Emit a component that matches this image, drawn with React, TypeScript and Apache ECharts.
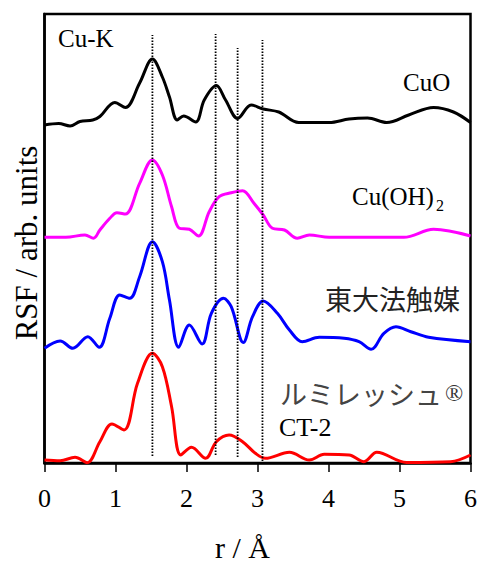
import React, { useEffect, useRef } from "react";
import * as echarts from "echarts";

// r (Å) positions and RSF values (arb. units, stacked display offsets included)
const R_CUO = [0, 0.2, 0.36, 0.5, 0.68, 0.78, 0.99, 1.14, 1.34, 1.52, 1.66, 1.76, 1.87, 1.96, 2.13, 2.25, 2.42, 2.55, 2.72, 2.91, 3.08, 3.3, 3.58, 4.01, 4.29, 4.55, 4.82, 5.13, 5.48, 5.76, 6.0];
const V_CUO = [338, 339.5, 337, 341.5, 343, 346.5, 360.5, 355.5, 380, 404, 386, 366, 343, 347, 341, 363, 377.5, 363, 344.5, 358, 354, 351, 340.5, 340.5, 344, 345, 340.5, 348, 355.5, 351, 340.5];

const R_CUOH = [0, 0.3, 0.57, 0.69, 0.78, 0.92, 1.02, 1.14, 1.34, 1.52, 1.66, 1.79, 1.9, 2.04, 2.17, 2.32, 2.46, 2.63, 2.79, 2.95, 3.08, 3.21, 3.38, 3.56, 3.73, 4.01, 4.57, 5.06, 5.48, 6.0];
const V_CUOH = [225.7, 225.7, 228, 224.7, 233, 244.7, 250.3, 249, 279.7, 303, 288, 256.3, 234.7, 233.7, 227, 251.3, 266.3, 270.3, 272.3, 259.7, 248, 234.7, 233, 224.7, 228, 225.7, 225.7, 225.7, 233.7, 227];

const R_TODAI = [0, 0.22, 0.4, 0.61, 0.77, 0.92, 1.06, 1.2, 1.34, 1.52, 1.66, 1.76, 1.89, 2.04, 2.22, 2.35, 2.52, 2.63, 2.8, 2.93, 3.08, 3.28, 3.45, 3.63, 3.87, 4.22, 4.43, 4.6, 4.78, 4.95, 5.16, 5.41, 6.0];
const V_TODAI = [114.7, 122, 114.7, 126.3, 115.7, 144.7, 168, 164.7, 186.3, 221.3, 201.3, 163, 115.7, 138, 119, 149.7, 164.7, 156.3, 120.5, 146.3, 162, 149.7, 133, 121.3, 125.7, 124.7, 121.3, 113.7, 129.7, 136.3, 131.3, 125.7, 121.3];

const R_CT2 = [0, 0.22, 0.43, 0.6, 0.78, 0.95, 1.12, 1.31, 1.52, 1.66, 1.79, 1.92, 2.07, 2.27, 2.42, 2.6, 2.79, 2.97, 3.11, 3.45, 3.73, 3.94, 4.29, 4.5, 4.68, 5.1, 5.72, 6.0];
const V_CT2 = [3, 2.3, 5.7, 0.3, 21.3, 39, 33, 79.7, 109.7, 96.3, 56.3, 8, 15.7, 4.7, 21.3, 28, 21.3, 9.7, 4.7, 10.7, 3, 8.7, 8, 1.3, 10.7, 0.5, 1.3, 8];

// reference lines: r position, bottom and top value
const REF_R = [1.52, 2.41, 2.72, 3.07];
const REF_LO = [7, 8, 6, 2];
const REF_HI = [428, 429, 415, 423];

const X_TICKS = [0, 1, 2, 3, 4, 5, 6];

const SERIF = "'Liberation Serif', 'Times New Roman', serif";
const CJK = "'Noto Sans CJK JP', sans-serif";

function pairs(r: number[], v: number[]) {
  return r.map((x, i) => [x, v[i]]);
}

export default function App() {
  const ref = useRef<HTMLDivElement>(null);
  useEffect(() => {
    if (!ref.current) return;
    const chart = echarts.init(ref.current, undefined, { renderer: "svg" });
    const curves = [
      { name: "CuO", r: R_CUO, v: V_CUO, color: "#000000" },
      { name: "Cu(OH)2", r: R_CUOH, v: V_CUOH, color: "#ff00ff" },
      { name: "東大法触媒", r: R_TODAI, v: V_TODAI, color: "#0000ff" },
      { name: "ルミレッシュ® CT-2", r: R_CT2, v: V_CT2, color: "#ff0000" },
    ];
    const series: any[] = curves.map((c) => ({
      type: "line",
      name: c.name,
      data: pairs(c.r, c.v),
      showSymbol: false,
      smooth: 0.35,
      lineStyle: { color: c.color, width: 3 },
      itemStyle: { color: c.color },
      z: 2,
    }));
    REF_R.forEach((x, i) => {
      series.push({
        type: "line",
        name: "ref" + i,
        data: [
          [x, REF_LO[i]],
          [x, REF_HI[i]],
        ],
        showSymbol: false,
        lineStyle: { color: "#000", width: 1.8, type: [1.5, 1.5] },
        z: 3,
      });
    });
    chart.setOption({
      animation: false,
      backgroundColor: "#ffffff",
      grid: {
        left: 44.5,
        right: 8,
        top: 14,
        bottom: 99,
        show: true,
        borderColor: "#000",
        borderWidth: 2.5,
      },
      xAxis: {
        type: "value",
        min: 0,
        max: 6,
        interval: 1,
        axisLine: { show: true, lineStyle: { color: "#000", width: 2.5 } },
        axisTick: { show: true, inside: false, length: 9, lineStyle: { color: "#000", width: 1.5 } },
        axisLabel: {
          margin: 22,
          color: "#000",
          fontFamily: SERIF,
          fontSize: 26,
          formatter: (v: number) => (X_TICKS.includes(v) ? String(v) : ""),
        },
        splitLine: { show: false },
      },
      yAxis: {
        type: "value",
        min: 0,
        max: 449,
        axisLine: { show: true, lineStyle: { color: "#000", width: 2.5 } },
        axisTick: { show: false },
        axisLabel: { show: false },
        splitLine: { show: false },
      },
      series,
      graphic: [
        { type: "text", x: 242.5, y: 547, style: { text: "r / Å", font: `30px ${SERIF}`, lineHeight: 28, fill: "#000", align: "center", verticalAlign: "middle" } },
        { type: "text", x: 26.5, y: 243, rotation: Math.PI / 2, style: { text: "RSF / arb. units", font: `31px ${SERIF}`, fill: "#000", align: "center", verticalAlign: "middle" } },
        { type: "text", x: 58, y: 38.5, style: { text: "Cu-K", font: `25px ${SERIF}`, fill: "#000", align: "left", verticalAlign: "middle" } },
        { type: "text", x: 403, y: 82.5, style: { text: "CuO", font: `25px ${SERIF}`, fill: "#000", align: "left", verticalAlign: "middle" } },
        { type: "text", x: 352, y: 196.5, style: { text: "Cu(OH)", font: `25px ${SERIF}`, fill: "#000", align: "left", verticalAlign: "middle" } },
        { type: "text", x: 436, y: 205, style: { text: "2", font: `16px ${SERIF}`, fill: "#000", align: "left", verticalAlign: "middle" } },
        { type: "text", x: 325, y: 298, style: { text: "東大法触媒", font: `27px ${CJK}`, fill: "#222", align: "left", verticalAlign: "middle" } },
        { type: "text", x: 280, y: 393, style: { text: "ルミレッシュ", font: `27px ${CJK}`, fill: "#444", align: "left", verticalAlign: "middle" } },
        { type: "text", x: 445, y: 393, style: { text: "®", font: `24px ${SERIF}`, fill: "#333", align: "left", verticalAlign: "middle" } },
        { type: "text", x: 279, y: 427.5, style: { text: "CT-2", font: `26px ${SERIF}`, fill: "#000", align: "left", verticalAlign: "middle" } },
      ],
    });
    return () => chart.dispose();
  }, []);
  return <div ref={ref} style={{ position: "absolute", left: 0, top: 0, width: 480, height: 562 }} />;
}
